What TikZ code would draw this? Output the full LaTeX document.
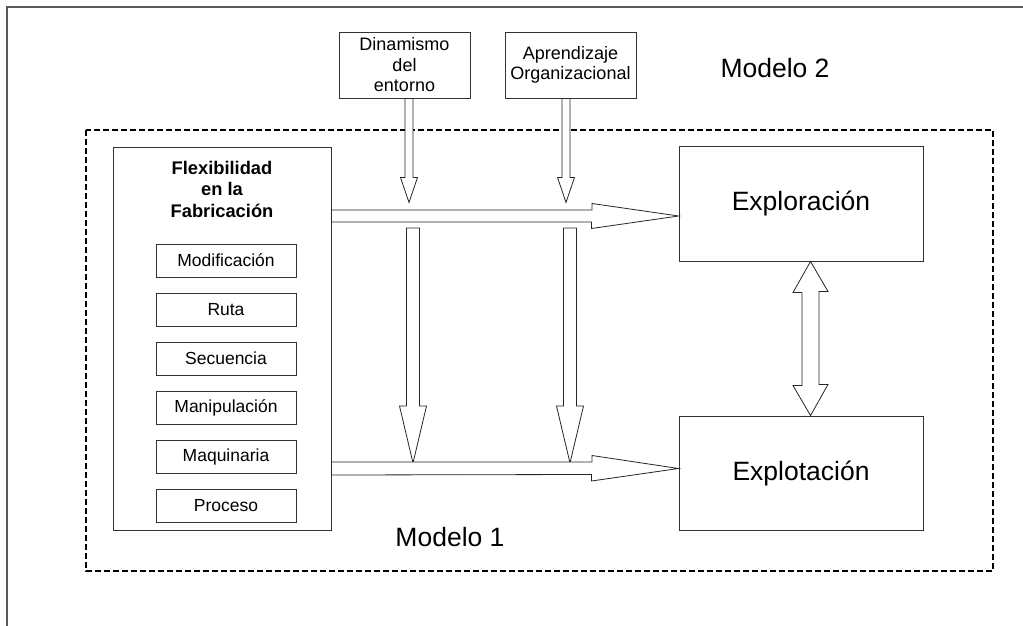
\documentclass[tikz,border=0pt]{standalone}
\usepackage{fontspec}
\setmainfont{Liberation Sans}
\usetikzlibrary{positioning}

\tikzset{
	linea/.style={draw=black!80, line width=0.9pt},
	caja/.style={linea, minimum width=140pt, minimum height=33pt, inner sep=0pt, font=\fontsize{17.5}{21}\selectfont},
	factor/.style={linea, minimum width=131pt, minimum height=66pt, inner sep=0pt, align=center, font=\fontsize{18}{20.5}\selectfont},
	grande/.style={linea, minimum width=244pt, minimum height=115pt, inner sep=0pt, font=\fontsize{26.5}{30}\selectfont},
	flecha/.style={draw=black!85, line width=0.8pt, fill=white, line join=miter},
}

\begin{document}
\begin{tikzpicture}[x=1pt, y=-1pt]
	\useasboundingbox (0,0) rectangle (1023,626);
	% marco exterior
	\draw[draw=black!65, line width=1.6pt] (7,626) -- (7,7) -- (1023,7);
	% modelo 1
	\draw[line width=2pt, dash pattern=on 6pt off 3pt] (86,130) rectangle (993,571);

	\node[linea, minimum width=218pt, minimum height=383pt] (flex) at (222,338.5) {};
	\node[align=center, font=\bfseries\fontsize{18.3}{21.5}\selectfont] (flextit) at (222,189) {Flexibilidad\\en la\\Fabricación};
	\foreach \tipo [count=\i] in {Modificación,Ruta,Secuencia,Manipulación,Maquinaria,Proceso}
	{
		\node[caja] (tipo\i) at (226,{260.5+49*(\i-1)}) {\tipo};
	}

	\node[factor] (dinam) at (404.5,65) {Dinamismo\\del\\entorno};
	\node[factor] (apren) at (570.5,65) {Aprendizaje\\Organizacional};

	\node[grande] (explor) at (801,203.5) {Exploración};
	\node[grande, minimum height=114pt] (explot) at (801,473) {Explotación};

	\node[font=\fontsize{26.5}{30}\selectfont] (mod2) at (775,68) {Modelo 2};
	\node[font=\fontsize{26.5}{30}\selectfont] (mod1) at (450,537) {Modelo 1};

	% flechas de los factores
	\foreach \x/\src in {409/dinam,566/apren}
	{
		\draw[flecha] (\src.south -| \x,0) ++(-4,0) -- ++(0,79) -- ++(-4.5,0) -- ++(8.5,25) -- ++(8.5,-25) -- ++(-4.5,0) -- ++(0,-79) -- cycle;
	}
	% flechas largas hacia abajo
	\foreach \x in {413,570}
	{
		\draw[flecha] (\x,228) ++(-6.5,0) -- ++(0,178) -- ++(-7,0) -- ++(13.5,57) -- ++(13.5,-57) -- ++(-7,0) -- ++(0,-178) -- cycle;
	}
	% flechas horizontales
	\foreach \y/\t/\b/\dest in {210/216/222/explor,462/468.5/475/explot}
	{
		\draw[flecha] (flex.east |- 0,\y) -- (592,\y) -- ++(0,-6.5) -- (\dest.west |- 0,\t) -- ++(-87,12.5) -- ++(0,-6.5) -- (flex.east |- 0,\b) -- cycle;
	}
	% flecha doble
	\draw[flecha] (explor.south -| 810.5,0) -- ++(17.5,30) -- ++(-9,0) -- ++(0,93) -- ++(9,0) -- (explot.north -| 810.5,0) -- ++(-17.5,-30) -- ++(9,0) -- ++(0,-93) -- ++(-9,0) -- cycle;
\end{tikzpicture}
\end{document}
